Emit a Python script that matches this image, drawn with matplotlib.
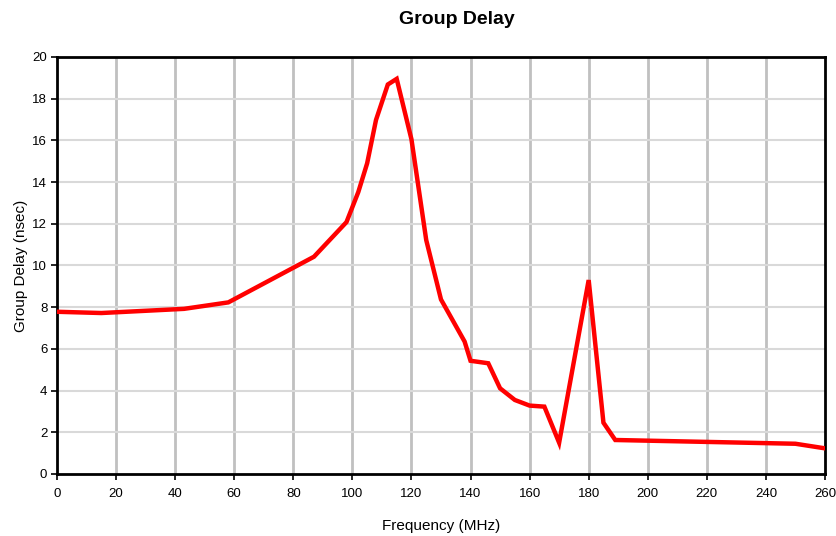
import matplotlib
matplotlib.use("Agg")
import matplotlib.pyplot as plt

plt.rcParams['font.family'] = ['Liberation Sans', 'DejaVu Sans']

# frecuencia (MHz) y retardo de grupo (nsec)
frecuencia = [0, 15, 43, 58, 87, 98, 102, 105, 108, 112, 115, 120, 125, 130, 138, 140,
              146, 150, 155, 160, 165, 170, 180, 185, 189, 250, 260]
retardo = [7.78, 7.72, 7.92, 8.23, 10.42, 12.08, 13.52, 14.9, 16.98, 18.68, 18.95, 16.05,
           11.22, 8.37, 6.35, 5.43, 5.31, 4.11, 3.55, 3.28, 3.23, 1.5, 9.3, 2.46, 1.63,
           1.45, 1.23]

xticks = list(range(0, 261, 20))
yticks = list(range(0, 21, 2))

fig = plt.figure(figsize=(8.36, 5.36), dpi=100)
ax = fig.add_axes([0.0682, 0.1157, 0.9186, 0.778])

ax.plot(frecuencia, retardo, color='#ff0000', linewidth=3.2, solid_joinstyle='miter', zorder=3)

ax.set_xlim(0, 260)
ax.set_ylim(0, 20)
ax.set_xticks(xticks)
ax.set_yticks(yticks)
ax.tick_params(axis='both', labelsize=9.5, direction='out', length=4, width=1.2)
ax.tick_params(axis='y', pad=3)
ax.tick_params(axis='x', pad=6)

# rejilla
for x in xticks[1:-1]:
    ax.axvline(x, color='#c0c0c0', linewidth=2, zorder=1)
for y in yticks[1:-1]:
    ax.axhline(y, color='#d9d9d9', linewidth=1.5, zorder=1)

for s in ax.spines.values():
    s.set_color('black')
    s.set_linewidth(2)

ax.set_title('Group Delay', fontsize=14, fontweight='bold', x=0.521, pad=24)
ax.set_xlabel('Frequency (MHz)', fontsize=11, labelpad=14)
ax.set_ylabel('Group Delay (nsec)', fontsize=11, labelpad=3)

fig.savefig('out.png', dpi=100)
